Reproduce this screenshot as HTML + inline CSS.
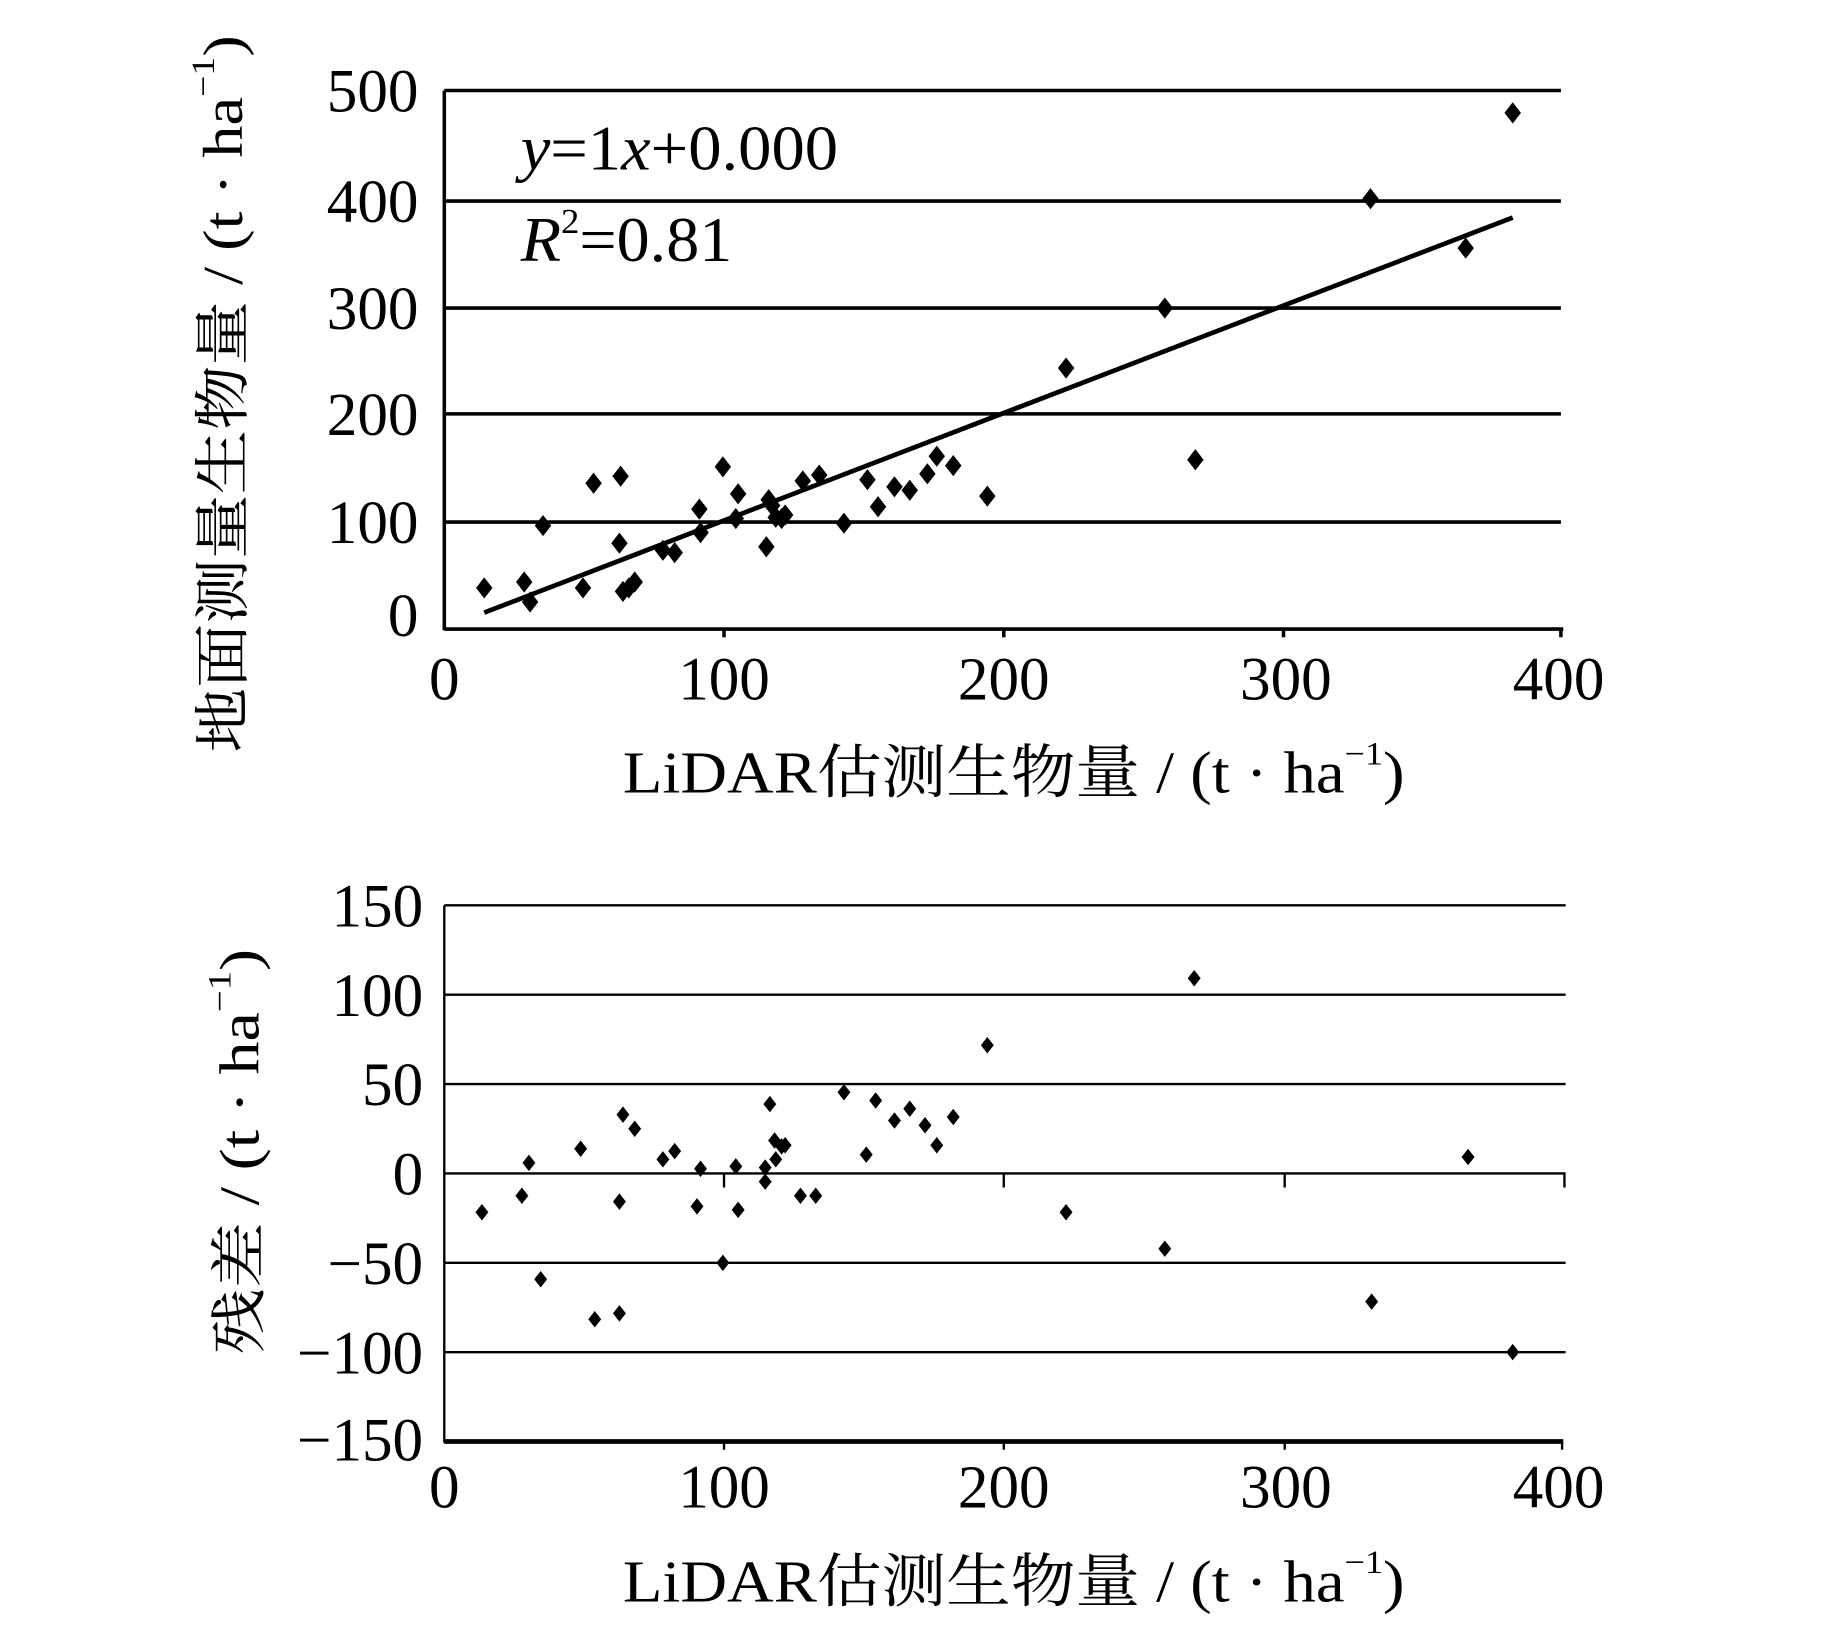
<!DOCTYPE html>
<html><head><meta charset="utf-8"><style>
html,body{margin:0;padding:0;background:#fff;}
svg{display:block;}
text{font-family:"Liberation Serif","Noto Serif CJK SC",serif;fill:#000;}
</style></head><body>
<svg width="1843" height="1632" viewBox="0 0 1568 1388" preserveAspectRatio="none" xmlns="http://www.w3.org/2000/svg">
<defs>
<path id="d" d="M0,-9 L7,0 L0,9 L-7,0Z"/>
<path id="e" d="M0,-7 L5.5,0 L0,7 L-5.5,0Z"/>
</defs>
<!-- TOP CHART -->
<g stroke="#000" stroke-width="3">
<line x1="378" y1="77" x2="1328" y2="77"/>
<line x1="378" y1="171" x2="1328" y2="171"/>
<line x1="378" y1="262" x2="1328" y2="262"/>
<line x1="378" y1="352" x2="1328" y2="352"/>
<line x1="378" y1="444" x2="1328" y2="444"/>
<line x1="378" y1="535" x2="1330" y2="535"/>
<line x1="378" y1="77" x2="378" y2="536"/>
<line x1="616" y1="535" x2="616" y2="542"/>
<line x1="854" y1="535" x2="854" y2="542"/>
<line x1="1092" y1="535" x2="1092" y2="542"/>
<line x1="1328" y1="535" x2="1328" y2="542"/>
<line x1="412" y1="521" x2="1287" y2="185" stroke-width="4"/>
</g>
<g font-size="52" text-anchor="end">
<text x="356" y="95">500</text><text x="356" y="189">400</text><text x="356" y="280">300</text>
<text x="356" y="370">200</text><text x="356" y="462">100</text><text x="356" y="541">0</text>
</g>
<g font-size="52" text-anchor="middle">
<text x="378" y="595">0</text><text x="616" y="595">100</text><text x="854" y="595">200</text>
<text x="1094" y="595">300</text><text x="1326" y="595">400</text>
</g>
<text x="443" y="144" font-size="54" textLength="270" lengthAdjust="spacingAndGlyphs"><tspan font-style="italic">y</tspan>=1<tspan font-style="italic">x</tspan>+0.000</text>
<text x="443" y="222" font-size="54" textLength="180" lengthAdjust="spacingAndGlyphs"><tspan font-style="italic">R</tspan><tspan font-size="30" dy="-24">2</tspan><tspan dy="24">=0.81</tspan></text>
<text x="530" y="674" font-size="50" textLength="665" lengthAdjust="spacingAndGlyphs">LiDAR估测生物量 / (t · ha<tspan font-size="28" dy="-24">−1</tspan><tspan dy="24">)</tspan></text>
<text transform="translate(206,640) rotate(-90)" font-size="48" textLength="610" lengthAdjust="spacingAndGlyphs">地面测量生物量 / (t · ha<tspan font-size="28" dy="-24">−1</tspan><tspan dy="24">)</tspan></text>
<g>
<use href="#d" x="412" y="500"/><use href="#d" x="446" y="495"/><use href="#d" x="451" y="512"/><use href="#d" x="462" y="447"/>
<use href="#d" x="496" y="500"/><use href="#d" x="505" y="411"/><use href="#d" x="528" y="405"/><use href="#d" x="527" y="462"/>
<use href="#d" x="530" y="503"/><use href="#d" x="535" y="500"/><use href="#d" x="540" y="495"/><use href="#d" x="564" y="468"/>
<use href="#d" x="574" y="470"/><use href="#d" x="595" y="433"/><use href="#d" x="596" y="453"/><use href="#d" x="615" y="397"/>
<use href="#d" x="628" y="420"/><use href="#d" x="626" y="441"/><use href="#d" x="654" y="425"/><use href="#d" x="652" y="465"/>
<use href="#d" x="657" y="430"/><use href="#d" x="660" y="440"/><use href="#d" x="668" y="438"/><use href="#d" x="665" y="441"/>
<use href="#d" x="683" y="409"/><use href="#d" x="697" y="404"/><use href="#d" x="718" y="445"/><use href="#d" x="738" y="408"/>
<use href="#d" x="747" y="431"/><use href="#d" x="761" y="414"/><use href="#d" x="774" y="417"/><use href="#d" x="789" y="403"/>
<use href="#d" x="797" y="388"/><use href="#d" x="811" y="396"/><use href="#d" x="840" y="422"/><use href="#d" x="907" y="313"/>
<use href="#d" x="991" y="262"/><use href="#d" x="1017" y="391"/><use href="#d" x="1166" y="169"/><use href="#d" x="1247" y="211"/>
<use href="#d" x="1287" y="96"/>
</g>
<!-- BOTTOM CHART -->
<g stroke="#000" stroke-width="2">
<line x1="378" y1="770" x2="1332" y2="770"/>
<line x1="378" y1="846" x2="1332" y2="846"/>
<line x1="378" y1="922" x2="1332" y2="922"/>
<line x1="378" y1="998" x2="1332" y2="998"/>
<line x1="378" y1="1074" x2="1332" y2="1074"/>
<line x1="378" y1="1150" x2="1332" y2="1150"/>
<line x1="378" y1="770" x2="378" y2="1227"/>
<line x1="616" y1="998" x2="616" y2="1010"/><line x1="854" y1="998" x2="854" y2="1010"/>
<line x1="1093" y1="998" x2="1093" y2="1010"/><line x1="1331" y1="998" x2="1331" y2="1010"/>
<line x1="616" y1="1226" x2="616" y2="1233"/><line x1="854" y1="1226" x2="854" y2="1233"/>
<line x1="1093" y1="1226" x2="1093" y2="1233"/><line x1="1329" y1="1226" x2="1329" y2="1233"/>
<line x1="378" y1="1226" x2="1330" y2="1226" stroke-width="4"/>
</g>
<g font-size="52" text-anchor="end">
<text x="360" y="788">150</text><text x="360" y="864">100</text><text x="360" y="940">50</text>
<text x="360" y="1016">0</text><text x="360" y="1092">−50</text><text x="360" y="1168">−100</text><text x="360" y="1242">−150</text>
</g>
<g font-size="52" text-anchor="middle">
<text x="378" y="1282">0</text><text x="616" y="1282">100</text><text x="854" y="1282">200</text>
<text x="1094" y="1282">300</text><text x="1326" y="1282">400</text>
</g>
<text x="530" y="1362" font-size="50" textLength="665" lengthAdjust="spacingAndGlyphs">LiDAR估测生物量 / (t · ha<tspan font-size="28" dy="-24">−1</tspan><tspan dy="24">)</tspan></text>
<text transform="translate(220,1152) rotate(-90)" font-size="48" textLength="345" lengthAdjust="spacingAndGlyphs">残差 / (t · ha<tspan font-size="28" dy="-24">−1</tspan><tspan dy="24">)</tspan></text>
<g>
<use href="#e" x="410" y="1031"/><use href="#e" x="444" y="1017"/><use href="#e" x="450" y="989"/><use href="#e" x="460" y="1088"/>
<use href="#e" x="494" y="977"/><use href="#e" x="506" y="1122"/><use href="#e" x="527" y="1117"/><use href="#e" x="527" y="1022"/>
<use href="#e" x="530" y="948"/><use href="#e" x="540" y="960"/><use href="#e" x="564" y="986"/><use href="#e" x="574" y="979"/>
<use href="#e" x="593" y="1026"/><use href="#e" x="596" y="994"/><use href="#e" x="615" y="1074"/><use href="#e" x="626" y="992"/>
<use href="#e" x="628" y="1029"/><use href="#e" x="651" y="1005"/><use href="#e" x="651" y="993"/><use href="#e" x="655" y="939"/>
<use href="#e" x="659" y="970"/><use href="#e" x="660" y="986"/><use href="#e" x="665" y="975"/><use href="#e" x="668" y="974"/>
<use href="#e" x="681" y="1017"/><use href="#e" x="694" y="1017"/><use href="#e" x="718" y="929"/><use href="#e" x="737" y="982"/>
<use href="#e" x="745" y="936"/><use href="#e" x="761" y="953"/><use href="#e" x="774" y="943"/><use href="#e" x="787" y="957"/>
<use href="#e" x="797" y="974"/><use href="#e" x="811" y="950"/><use href="#e" x="840" y="889"/><use href="#e" x="907" y="1031"/>
<use href="#e" x="991" y="1062"/><use href="#e" x="1016" y="832"/><use href="#e" x="1167" y="1107"/><use href="#e" x="1249" y="984"/>
<use href="#e" x="1287" y="1150"/>
</g>
</svg>
</body></html>
